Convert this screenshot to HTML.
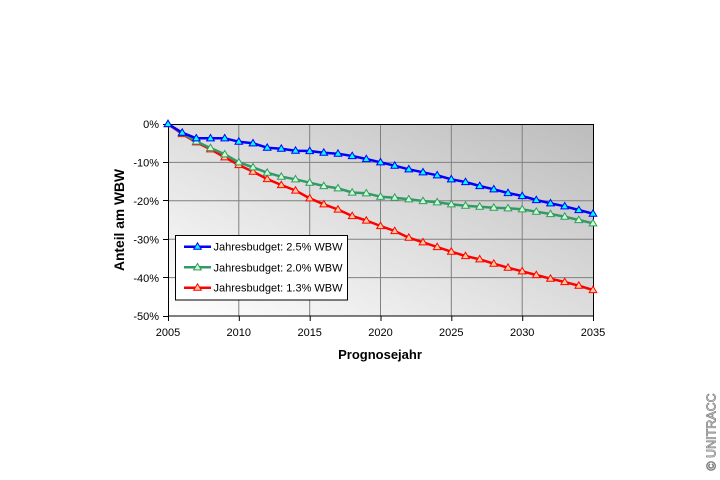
<!DOCTYPE html>
<html><head><meta charset="utf-8"><style>
html,body{margin:0;padding:0;background:#fff;}
svg{display:block;font-family:"Liberation Sans",Arial,sans-serif;}
</style></head><body>
<svg width="720" height="480" viewBox="0 0 720 480" xmlns="http://www.w3.org/2000/svg">
<defs>
<linearGradient id="bg" x1="0" y1="1" x2="1" y2="0">
<stop offset="0" stop-color="#ffffff"/>
<stop offset="1" stop-color="#bcbcbc"/>
</linearGradient>
<marker id="mb" markerUnits="userSpaceOnUse" markerWidth="10" markerHeight="10" refX="5" refY="5" overflow="visible">
<path d="M5,1.2 L8.8,7.6 L1.2,7.6 Z" fill="#00ffff" stroke="#0000ff" stroke-width="1"/>
</marker>
<marker id="mg" markerUnits="userSpaceOnUse" markerWidth="10" markerHeight="10" refX="5" refY="5" overflow="visible">
<path d="M5,1.2 L8.8,7.6 L1.2,7.6 Z" fill="#ccffcc" stroke="#339966" stroke-width="1"/>
</marker>
<marker id="mr" markerUnits="userSpaceOnUse" markerWidth="10" markerHeight="10" refX="5" refY="5" overflow="visible">
<path d="M5,1.2 L8.8,7.6 L1.2,7.6 Z" fill="#ffcc99" stroke="#ff0000" stroke-width="1"/>
</marker>
</defs>
<rect x="0" y="0" width="720" height="480" fill="#fff"/>
<!-- plot area -->
<rect x="168" y="124" width="425" height="192" fill="url(#bg)"/>
<g stroke="#808080" stroke-width="1">
<line x1="238.8" y1="124" x2="238.8" y2="316"/>
<line x1="309.7" y1="124" x2="309.7" y2="316"/>
<line x1="380.5" y1="124" x2="380.5" y2="316"/>
<line x1="451.3" y1="124" x2="451.3" y2="316"/>
<line x1="522.2" y1="124" x2="522.2" y2="316"/>
<line x1="168" y1="162.4" x2="593" y2="162.4"/>
<line x1="168" y1="200.8" x2="593" y2="200.8"/>
<line x1="168" y1="239.2" x2="593" y2="239.2"/>
<line x1="168" y1="277.6" x2="593" y2="277.6"/>
</g>
<rect x="168.5" y="124.5" width="425" height="191.5" fill="none" stroke="#000" stroke-width="1"/>
<g stroke="#000" stroke-width="1">
<line x1="163" y1="124.5" x2="168" y2="124.5"/>
<line x1="163" y1="162.5" x2="168" y2="162.5"/>
<line x1="163" y1="200.5" x2="168" y2="200.5"/>
<line x1="163" y1="239.5" x2="168" y2="239.5"/>
<line x1="163" y1="277.5" x2="168" y2="277.5"/>
<line x1="163" y1="316.5" x2="168" y2="316.5"/>
<line x1="168.5" y1="316" x2="168.5" y2="321"/>
<line x1="239.3" y1="316" x2="239.3" y2="321"/>
<line x1="310.2" y1="316" x2="310.2" y2="321"/>
<line x1="381" y1="316" x2="381" y2="321"/>
<line x1="451.8" y1="316" x2="451.8" y2="321"/>
<line x1="522.7" y1="316" x2="522.7" y2="321"/>
<line x1="593.5" y1="316" x2="593.5" y2="321"/>
</g>
<!-- y labels -->
<g font-size="11" fill="#000" text-anchor="end">
<text x="159" y="128">0%</text>
<text x="159" y="166.5">-10%</text>
<text x="159" y="205">-20%</text>
<text x="159" y="243.5">-30%</text>
<text x="159" y="282">-40%</text>
<text x="159" y="320">-50%</text>
</g>
<!-- x labels -->
<g font-size="11" fill="#000" text-anchor="middle">
<text x="168" y="336">2005</text>
<text x="238.8" y="336">2010</text>
<text x="309.7" y="336">2015</text>
<text x="380.5" y="336">2020</text>
<text x="451.3" y="336">2025</text>
<text x="522.2" y="336">2030</text>
<text x="593" y="336">2035</text>
</g>
<text x="380" y="359" font-size="13" font-weight="bold" text-anchor="middle">Prognosejahr</text>
<text transform="translate(124,220) rotate(-90)" font-size="13.8" font-weight="bold" text-anchor="middle">Anteil am WBW</text>
<!-- series -->
<polyline fill="none" stroke="#ff0000" stroke-width="2.5" stroke-linejoin="round" marker-start="url(#mr)" marker-mid="url(#mr)" marker-end="url(#mr)"
points="168,124 182.2,134 196.3,142.3 210.5,149.3 224.7,157.3 238.8,165 253,171.7 267.2,179 281.3,185 295.5,190.5 309.7,198.3 323.8,204.3 338,209.5 352.2,216 366.3,220.5 380.5,226 394.7,231 408.8,237.7 423,242.3 437.2,247 451.3,251.7 465.5,256 479.7,259.3 493.8,263.7 508,267.7 522.2,271.3 536.3,275 550.5,278.7 564.7,282 578.8,285.7 593,290"/>
<polyline fill="none" stroke="#339966" stroke-width="2.5" stroke-linejoin="round" marker-start="url(#mg)" marker-mid="url(#mg)" marker-end="url(#mg)"
points="168,124 182.2,133 196.3,141.5 210.5,148 224.7,154.3 238.8,162.3 253,167.3 267.2,172.7 281.3,176.7 295.5,179.3 309.7,182.7 323.8,186 338,188.3 352.2,192.5 366.3,193.3 380.5,196.7 394.7,197.7 408.8,199.3 423,201 437.2,202.3 451.3,204.3 465.5,205.7 479.7,206.7 493.8,207.7 508,208.3 522.2,209.3 536.3,211.7 550.5,214 564.7,216.7 578.8,220 593,223.3"/>
<polyline fill="none" stroke="#0000ff" stroke-width="2.5" stroke-linejoin="round" marker-start="url(#mb)" marker-mid="url(#mb)" marker-end="url(#mb)"
points="168,124 182.2,132.7 196.3,138.3 210.5,138.3 224.7,138.3 238.8,141.7 253,143.3 267.2,147.7 281.3,148.7 295.5,150.7 309.7,151 323.8,152.7 338,153.7 352.2,156 366.3,159 380.5,162.3 394.7,165.7 408.8,169.3 423,172.3 437.2,175.3 451.3,179.3 465.5,182 479.7,186 493.8,189.3 508,193 522.2,196 536.3,200 550.5,203.3 564.7,206.3 578.8,210 593,213.7"/>
<!-- legend -->
<rect x="175.5" y="235.5" width="172" height="64.5" fill="#fff" stroke="#000" stroke-width="1"/>
<line x1="184" y1="246.7" x2="211" y2="246.7" stroke="#0000ff" stroke-width="2.5"/>
<path d="M197.5,242.9 L201.3,249.3 L193.7,249.3 Z" fill="#00ffff" stroke="#0000ff" stroke-width="1"/>
<line x1="184" y1="267.3" x2="211" y2="267.3" stroke="#339966" stroke-width="2.5"/>
<path d="M197.5,263.5 L201.3,269.9 L193.7,269.9 Z" fill="#ccffcc" stroke="#339966" stroke-width="1"/>
<line x1="184" y1="287.7" x2="211" y2="287.7" stroke="#ff0000" stroke-width="2.5"/>
<path d="M197.5,283.9 L201.3,290.3 L193.7,290.3 Z" fill="#ffcc99" stroke="#ff0000" stroke-width="1"/>
<g font-size="11" fill="#000">
<text x="213.5" y="250.7">Jahresbudget: 2.5% WBW</text>
<text x="213.5" y="271.3">Jahresbudget: 2.0% WBW</text>
<text x="213.5" y="291.7">Jahresbudget: 1.3% WBW</text>
</g>
<!-- copyright -->
<text transform="translate(715.5,432) rotate(-90)" font-size="12.5" text-anchor="middle" fill="#ffffff" stroke="#777" stroke-width="0.7">© UNITRACC</text>
</svg>
</body></html>
